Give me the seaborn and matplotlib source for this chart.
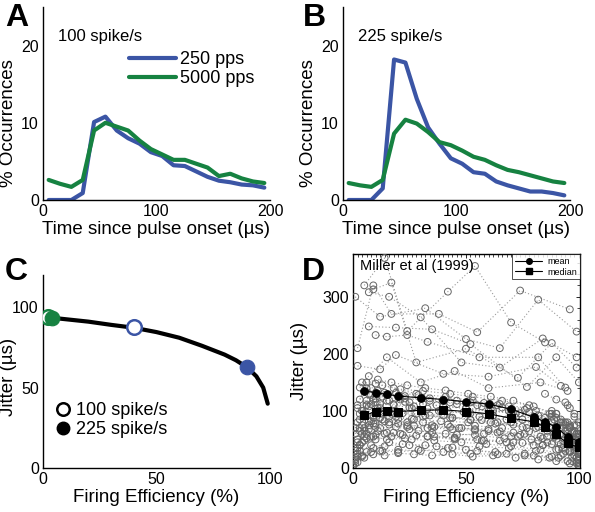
import numpy as np
import pandas as pd
import matplotlib
matplotlib.use("Agg")
import matplotlib.pyplot as plt
import seaborn as sns
from matplotlib.lines import Line2D
from matplotlib.ticker import MultipleLocator

# ---------------- data ----------------
time_us = [5, 15, 25, 35, 45, 55, 65, 75, 85, 95, 105, 115, 125, 135, 145, 155, 165, 175, 185, 195]
a_250 = [0, 0, 0, 0.9, 10.1, 10.8, 9.0, 8.0, 7.3, 6.2, 5.7, 4.5, 4.4, 3.7, 3.0, 2.5, 2.3, 2.0, 1.9, 1.6]
a_5000 = [2.6, 2.1, 1.7, 2.6, 9.0, 10.0, 9.5, 9.0, 7.7, 6.6, 5.9, 5.2, 5.2, 4.7, 4.2, 3.1, 3.4, 2.8, 2.4, 2.2]
b_250 = [0, 0, 0, 1.5, 18.2, 17.8, 13.1, 9.4, 7.3, 5.4, 4.7, 3.6, 3.4, 2.4, 1.9, 1.5, 1.1, 1.1, 0.9, 0.6]
b_5000 = [2.2, 1.9, 1.7, 2.6, 8.6, 10.4, 9.9, 8.8, 7.5, 7.1, 6.4, 5.6, 5.2, 4.5, 3.9, 3.6, 3.2, 2.8, 2.4, 2.2]

curve_fe = [0, 10, 20, 30, 40, 50, 60, 70, 80, 85, 90, 94, 97, 99]
curve_jit = [94, 92.5, 91, 89, 87.2, 84.5, 81, 76, 70.5, 67, 62.5, 57, 50, 40]
c_open_green = (2, 94)
c_fill_green = (4, 93.5)
c_open_blue = (40, 87.5)
c_fill_blue = (90, 62.5)

summary_fe = [5, 10, 15, 20, 30, 40, 50, 60, 70, 80, 85, 90, 95, 100]
mean_jit = [135, 132, 129, 126, 123, 120, 116, 112, 103, 89, 81, 71, 55, 46]
median_jit = [92, 99, 100, 99, 101, 102, 99, 95, 87, 81, 72, 59, 43, 36]

neurons_fe = [
    [1, 12, 32, 50, 65, 82, 99],
    [2, 9, 17, 38, 55, 74, 96],
    [5, 14, 24, 42, 54, 70, 85],
    [7, 16, 30, 48, 65, 84, 99],
    [9, 17, 28, 50, 73, 88, 99],
    [7, 19, 35, 52, 77, 90, 100],
    [10, 15, 24, 33, 56, 82, 94],
    [2, 12, 19, 40, 60, 81, 92],
    [3, 7, 15, 30, 45, 60, 83, 95],
    [0, 4, 9, 16, 25, 37, 50, 63, 76, 88, 97, 100],
    [1, 6, 12, 20, 30, 42, 55, 68, 80, 91, 99],
    [2, 8, 14, 22, 33, 45, 58, 71, 84, 94, 100],
    [3, 7, 13, 24, 35, 47, 60, 73, 86, 96],
    [1, 5, 11, 19, 28, 40, 52, 64, 77, 89, 98],
    [2, 6, 10, 18, 27, 39, 51, 62, 75, 87, 95, 100],
    [4, 9, 15, 23, 34, 46, 57, 69, 82, 92, 99],
    [3, 8, 13, 21, 31, 43, 53, 66, 78, 90, 98],
    [5, 11, 17, 26, 38, 49, 61, 72, 85, 94, 100],
    [2, 7, 12, 19, 29, 41, 54, 67, 79, 88, 96],
    [1, 4, 10, 17, 26, 36, 48, 59, 70, 83, 93, 99],
    [3, 9, 16, 27, 39, 51, 63, 75, 86, 95, 100],
    [6, 12, 20, 31, 44, 56, 68, 80, 90, 97],
    [4, 10, 18, 28, 41, 53, 65, 77, 88, 96, 100],
    [1, 3, 8, 14, 22, 32, 44, 56, 69, 81, 92, 99],
    [2, 6, 11, 18, 25, 35, 46, 58, 70, 82, 93, 100],
    [5, 10, 16, 24, 36, 48, 60, 71, 83, 91, 98],
    [3, 8, 15, 25, 37, 50, 62, 74, 85, 94, 99],
    [7, 13, 21, 30, 43, 55, 66, 78, 89, 97],
    [2, 5, 9, 15, 23, 33, 45, 57, 68, 80, 90, 98],
    [1, 4, 8, 13, 20, 29, 40, 52, 64, 76, 87, 95, 100],
    [4, 9, 14, 22, 32, 44, 57, 70, 82, 92, 99],
    [6, 11, 19, 29, 40, 52, 64, 76, 87, 95],
    [3, 7, 12, 20, 31, 42, 54, 66, 78, 89, 97, 100],
    [2, 8, 14, 23, 34, 46, 58, 69, 81, 90, 96, 100],
    [85, 90, 95, 98, 100],
    [88, 92, 96, 99, 100],
    [1, 3, 6, 10, 15, 21, 28, 36, 45, 55, 65, 75, 84, 91, 97, 100],
    [2, 5, 9, 14, 20, 27, 35, 44, 54, 64, 74, 84, 92, 98],
    [1, 4, 7, 12, 18, 25, 33, 42, 52, 62, 72, 82, 90, 96, 100],
    [3, 6, 10, 16, 23, 31, 40, 50, 60, 70, 80, 88, 95, 99],
    [0, 2, 5, 9, 14, 20, 27, 35, 44, 53, 62, 72, 82, 90, 96, 100],
    [4, 8, 13, 19, 26, 34, 43, 52, 61, 71, 81, 89, 95, 99],
    [2, 6, 11, 17, 24, 32, 41, 51, 61, 71, 80, 88, 94, 98],
    [1, 5, 10, 16, 24, 33, 43, 54, 65, 76, 86, 93, 98, 100],
    [90, 93, 96, 98, 100],
    [92, 95, 97, 99, 100],
    [94, 96, 98, 99, 100],
]
neurons_jit = [
    [300, 265, 280, 226, 210, 295, 239],
    [210, 320, 270, 270, 238, 311, 278],
    [320, 368, 240, 309, 354, 255, 220],
    [308, 300, 264, 185, 176, 227, 194],
    [313, 325, 185, 209, 158, 219, 176],
    [248, 246, 243, 217, 142, 194, 150],
    [233, 230, 233, 221, 194, 194, 141],
    [179, 173, 198, 165, 160, 177, 144],
    [141, 161, 194, 150, 170, 140, 150, 135],
    [5, 20, 35, 45, 40, 38, 32, 28, 25, 20, 12, 5],
    [12, 28, 30, 32, 30, 35, 30, 25, 22, 18, 8],
    [25, 55, 60, 58, 55, 50, 48, 45, 40, 30, 15],
    [40, 75, 85, 80, 75, 70, 65, 55, 45, 30],
    [60, 95, 105, 100, 95, 92, 85, 80, 70, 55, 40],
    [80, 110, 115, 112, 108, 100, 95, 92, 85, 72, 55, 45],
    [100, 120, 128, 122, 118, 112, 108, 100, 92, 80, 60],
    [120, 140, 145, 138, 135, 130, 125, 118, 110, 95, 75],
    [90, 100, 95, 105, 100, 98, 102, 95, 80, 65, 35],
    [50, 68, 70, 72, 65, 60, 58, 52, 50, 42, 28],
    [30, 45, 50, 55, 50, 48, 45, 42, 38, 32, 25, 18],
    [70, 88, 90, 85, 82, 80, 78, 72, 65, 50, 30],
    [110, 105, 95, 90, 88, 90, 85, 78, 62, 48],
    [150, 148, 140, 130, 125, 118, 112, 105, 90, 70, 50],
    [15, 30, 40, 38, 42, 40, 36, 38, 35, 30, 22, 10],
    [35, 60, 65, 62, 68, 62, 58, 60, 55, 48, 35, 20],
    [55, 78, 80, 75, 72, 70, 68, 62, 55, 45, 32],
    [95, 112, 118, 115, 110, 105, 100, 96, 88, 75, 55],
    [130, 125, 120, 122, 115, 110, 106, 98, 85, 62],
    [20, 48, 55, 50, 52, 56, 52, 48, 45, 40, 32, 22],
    [8, 22, 28, 30, 28, 32, 28, 25, 24, 22, 18, 12, 3],
    [75, 92, 100, 96, 92, 88, 84, 80, 72, 60, 42],
    [140, 135, 132, 128, 120, 115, 110, 102, 95, 80],
    [65, 82, 88, 86, 80, 76, 74, 70, 64, 55, 40, 25],
    [105, 128, 132, 126, 122, 118, 114, 108, 100, 88, 72, 60],
    [130, 120, 110, 95, 80],
    [100, 85, 70, 60, 45],
    [18, 40, 52, 58, 62, 60, 57, 55, 53, 50, 48, 44, 40, 33, 20, 8],
    [45, 70, 78, 82, 78, 74, 70, 68, 66, 62, 58, 52, 42, 28],
    [70, 100, 108, 112, 110, 106, 104, 100, 96, 92, 88, 80, 70, 55, 38],
    [85, 118, 122, 118, 116, 112, 108, 104, 100, 96, 90, 82, 68, 50],
    [2, 10, 18, 24, 22, 26, 24, 22, 24, 20, 22, 18, 15, 12, 8, 2],
    [60, 82, 95, 90, 86, 92, 88, 84, 80, 76, 70, 62, 50, 35],
    [110, 150, 155, 150, 145, 140, 136, 130, 125, 118, 108, 95, 80, 62],
    [35, 65, 72, 76, 72, 70, 72, 68, 64, 60, 55, 48, 38, 28],
    [95, 80, 75, 65, 55],
    [70, 60, 48, 35, 25],
    [115, 105, 90, 75, 60],
]

BLUE = "#3b55a5"
GREEN = "#168241"

# ---------------- style ----------------
sns.set_theme(style="white")
plt.rcParams["font.family"] = ["Liberation Sans", "DejaVu Sans"]
plt.rcParams["axes.linewidth"] = 1.0
plt.rcParams["axes.edgecolor"] = "black"
plt.rcParams["text.color"] = "black"
plt.rcParams["axes.labelcolor"] = "black"
plt.rcParams["xtick.color"] = "black"
plt.rcParams["ytick.color"] = "black"

fig = plt.figure(figsize=(5.95, 5.12), dpi=100)
W, H = 595, 512

def ax_px(l, t, r, b):
    return fig.add_axes([l / W, 1 - b / H, (r - l) / W, (b - t) / H])

axA = ax_px(43, 7, 270, 200)
axB = ax_px(343, 7, 570, 200)
axC = ax_px(43, 275, 270, 468)
axD = ax_px(353, 254, 580, 468)

TICK_FS = 11.5
LAB_FS = 13.5

def style_open(ax):
    for s in ["top", "right"]:
        ax.spines[s].set_visible(False)
    ax.tick_params(length=0, pad=3, labelsize=TICK_FS)

# ---------- A & B ----------
for ax, s250, s5000, label in [(axA, a_250, a_5000, "100 spike/s"), (axB, b_250, b_5000, "225 spike/s")]:
    sns.lineplot(x=time_us, y=s250, ax=ax, color=BLUE, linewidth=3.0, label="250 pps")
    sns.lineplot(x=time_us, y=s5000, ax=ax, color=GREEN, linewidth=3.0, label="5000 pps")
    ax.set_xlim(0, 200)
    ax.set_ylim(0, 25)
    ax.set_xticks([0, 100, 200])
    ax.set_yticks([0, 10, 20])
    style_open(ax)
    ax.set_xlabel("Time since pulse onset (\u00b5s)", fontsize=LAB_FS, labelpad=1)
    ax.set_ylabel("% Occurrences", fontsize=LAB_FS, labelpad=2)
    ax.yaxis.set_label_coords(-0.115, 0.40)
    ax.text(0.066, 0.845, label, transform=ax.transAxes, fontsize=12, va="center")

leg = axA.legend(loc="upper left", bbox_to_anchor=(0.38, 0.77), frameon=False,
                 fontsize=13, handlelength=2.6, handletextpad=0.2, labelspacing=0.1,
                 borderaxespad=0, borderpad=0)
axB.get_legend().remove()

# ---------- C ----------
sns.lineplot(x=curve_fe, y=curve_jit, ax=axC, color="black", linewidth=3.0)
sns.scatterplot(x=[c_open_green[0]], y=[c_open_green[1]], ax=axC, s=110, facecolor="white",
                edgecolor=GREEN, linewidth=1.8, zorder=3)
sns.scatterplot(x=[c_fill_green[0]], y=[c_fill_green[1]], ax=axC, s=110, color=GREEN,
                edgecolor=GREEN, zorder=4)
sns.scatterplot(x=[c_open_blue[0]], y=[c_open_blue[1]], ax=axC, s=110, facecolor="white",
                edgecolor=BLUE, linewidth=1.8, zorder=3)
sns.scatterplot(x=[c_fill_blue[0]], y=[c_fill_blue[1]], ax=axC, s=110, color=BLUE,
                edgecolor=BLUE, zorder=4)
axC.set_xlim(0, 100)
axC.set_ylim(0, 120)
axC.set_xticks([0, 50, 100])
axC.set_yticks([0, 50, 100])
style_open(axC)
axC.set_xlabel("Firing Efficiency (%)", fontsize=LAB_FS, labelpad=1)
axC.set_ylabel("Jitter (\u00b5s)", fontsize=LAB_FS)
axC.yaxis.set_label_coords(-0.115, 0.47)
hC = [Line2D([], [], marker="o", linestyle="none", markersize=9, markerfacecolor="white",
             markeredgecolor="black", markeredgewidth=1.8),
      Line2D([], [], marker="o", linestyle="none", markersize=9, markerfacecolor="black",
             markeredgecolor="black")]
axC.legend(hC, ["100 spike/s", "225 spike/s"], loc="upper left", bbox_to_anchor=(0.05, 0.34),
           frameon=False, fontsize=13, handletextpad=0.2, labelspacing=0.1,
           borderaxespad=0, borderpad=0, handlelength=1.0)

# ---------- D ----------
rows = []
for i, (fes, js) in enumerate(zip(neurons_fe, neurons_jit)):
    for f, j in zip(fes, js):
        rows.append({"neuron": i, "fe": f, "jit": j})
dfD = pd.DataFrame(rows)
sns.lineplot(data=dfD, x="fe", y="jit", units="neuron", estimator=None, sort=False, ax=axD,
             color="#9a9a9a", linewidth=0.8, linestyle=(0, (1, 2)))
sns.scatterplot(data=dfD, x="fe", y="jit", ax=axD, s=24, facecolor="none",
                edgecolor="#666666", linewidth=0.7, zorder=3)
sns.lineplot(x=summary_fe, y=mean_jit, ax=axD, color="black", linewidth=0.8, marker="o",
             markersize=5.5, markeredgecolor="black", zorder=5)
sns.lineplot(x=summary_fe, y=median_jit, ax=axD, color="black", linewidth=0.8, marker="s",
             markersize=5.5, markeredgecolor="black", zorder=5)
axD.set_xlim(0, 100.5)
axD.set_ylim(0, 375)
axD.set_xticks([0, 50, 100])
axD.set_yticks([0, 100, 200, 300])
axD.xaxis.set_minor_locator(MultipleLocator(2))
axD.yaxis.set_minor_locator(MultipleLocator(20))
axD.tick_params(which="both", direction="in", top=True, right=True, labelsize=TICK_FS, pad=3)
axD.tick_params(which="major", length=3, width=0.6)
axD.tick_params(which="minor", length=2, width=0.5)
axD.set_xlabel("Firing Efficiency (%)", fontsize=LAB_FS, labelpad=1)
axD.set_ylabel("Jitter (\u00b5s)", fontsize=LAB_FS)
axD.yaxis.set_label_coords(-0.2, 0.5)
axD.text(0.03, 0.975, "Miller et al (1999)", transform=axD.transAxes, fontsize=10.5, va="top")
hD = [Line2D([], [], color="black", linewidth=0.8, marker="o", markersize=4),
      Line2D([], [], color="black", linewidth=0.8, marker="s", markersize=4)]
lgD = axD.legend(hD, ["mean", "median"], loc="upper right", fontsize=6.5, frameon=True,
                 fancybox=False, edgecolor="black", borderaxespad=0, handlelength=3.0,
                 handletextpad=0.6, labelspacing=0.2, borderpad=0.3)
lgD.get_frame().set_linewidth(0.6)
lgD.set_zorder(10)

# ---------- panel letters ----------
for letter, x, y in [("A", 5, 3), ("B", 303, 3), ("C", 5, 257), ("D", 302, 257)]:
    fig.text(x / W, 1 - y / H, letter, fontsize=23, fontweight="bold", va="top", ha="left")

fig.savefig("out.png", dpi=100)
